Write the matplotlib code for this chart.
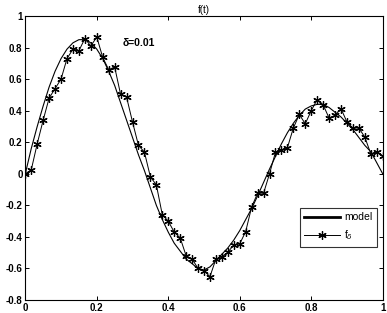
import matplotlib
matplotlib.use("Agg")
import matplotlib.pyplot as plt
from matplotlib.lines import Line2D

plt.rcParams['font.family'] = ['Liberation Sans', 'DejaVu Sans']

# grid t = k/60, k = 0..60
n_points = 61
t = [k / 60 for k in range(n_points)]

model = [0.00, 0.16, 0.30, 0.43, 0.55, 0.65, 0.73, 0.79, 0.83, 0.85,
         0.85, 0.83, 0.79, 0.73, 0.65, 0.56, 0.45, 0.34, 0.23, 0.12,
         0.02, -0.09, -0.20, -0.29, -0.37, -0.44, -0.49, -0.54, -0.57, -0.60,
         -0.61, -0.59, -0.55, -0.51, -0.47, -0.42, -0.36, -0.29, -0.22, -0.14,
         -0.055, 0.03, 0.11, 0.19, 0.26, 0.32, 0.37, 0.41, 0.43, 0.44,
         0.44, 0.42, 0.39, 0.36, 0.32, 0.28, 0.23, 0.18, 0.14, 0.07,
         0.00]

f_delta = [0.00, 0.025, 0.19, 0.34, 0.48, 0.54, 0.60, 0.73, 0.79, 0.78,
           0.857, 0.81, 0.867, 0.737, 0.66, 0.677, 0.503, 0.486, 0.328, 0.18,
           0.137, -0.02, -0.07, -0.26, -0.30, -0.37, -0.406, -0.52, -0.54, -0.60,
           -0.614, -0.652, -0.54, -0.525, -0.498, -0.45, -0.444, -0.366, -0.21, -0.123,
           -0.123, 0.0, 0.137, 0.152, 0.165, 0.29, 0.376, 0.317, 0.40, 0.47,
           0.437, 0.353, 0.37, 0.413, 0.328, 0.29, 0.29, 0.232, 0.127, 0.137,
           0.11]

xticks = [0, 0.2, 0.4, 0.6, 0.8, 1]
xticklabels = ['0', '0.2', '0.4', '0.6', '0.8', '1']
yticks = [-0.8, -0.6, -0.4, -0.2, 0, 0.2, 0.4, 0.6, 0.8, 1]
yticklabels = ['-0.8', '-0.6', '-0.4', '-0.2', '0', '0.2', '0.4', '0.6', '0.8', '1']

asterisk = (6, 2, 0)

fig = plt.figure(figsize=(3.87, 3.13), dpi=100)
ax = fig.add_axes([25.3 / 387, 1 - 300 / 313, (382.7 - 25.3) / 387, (300 - 16) / 313])

ax.plot(t, model, color='black', lw=0.8)
ax.plot(t, f_delta, color='black', lw=0.7, marker=asterisk, markersize=6,
        markeredgewidth=0.9)

ax.set_xlim(0, 1)
ax.set_ylim(-0.8, 1)
ax.set_xticks(xticks)
ax.set_xticklabels(xticklabels, fontsize=7, fontweight='bold')
ax.set_yticks(yticks)
ax.set_yticklabels(yticklabels, fontsize=7, fontweight='bold')
ax.tick_params(direction='in', length=3, width=0.7, top=True, right=True, pad=2)
for s in ax.spines.values():
    s.set_linewidth(0.8)

ax.set_title('f(t)', fontsize=7, pad=2)
ax.text(0.273, 0.83, 'δ=0.01', fontsize=7.5, fontweight='bold', va='center', ha='left')

handles = [Line2D([], [], color='black', lw=2),
           Line2D([], [], color='black', lw=0.7, marker=asterisk, markersize=6,
                  markeredgewidth=0.9)]
leg = ax.legend(handles, ['model', r'f$_\delta$'], loc='lower right',
                bbox_to_anchor=(0.998, 0.168), fontsize=7.5, frameon=True,
                fancybox=False, edgecolor='black', handlelength=3.4,
                borderpad=0.45, labelspacing=0.6, handletextpad=0.4)
leg.get_frame().set_linewidth(0.8)

fig.savefig('out.png', dpi=100)
